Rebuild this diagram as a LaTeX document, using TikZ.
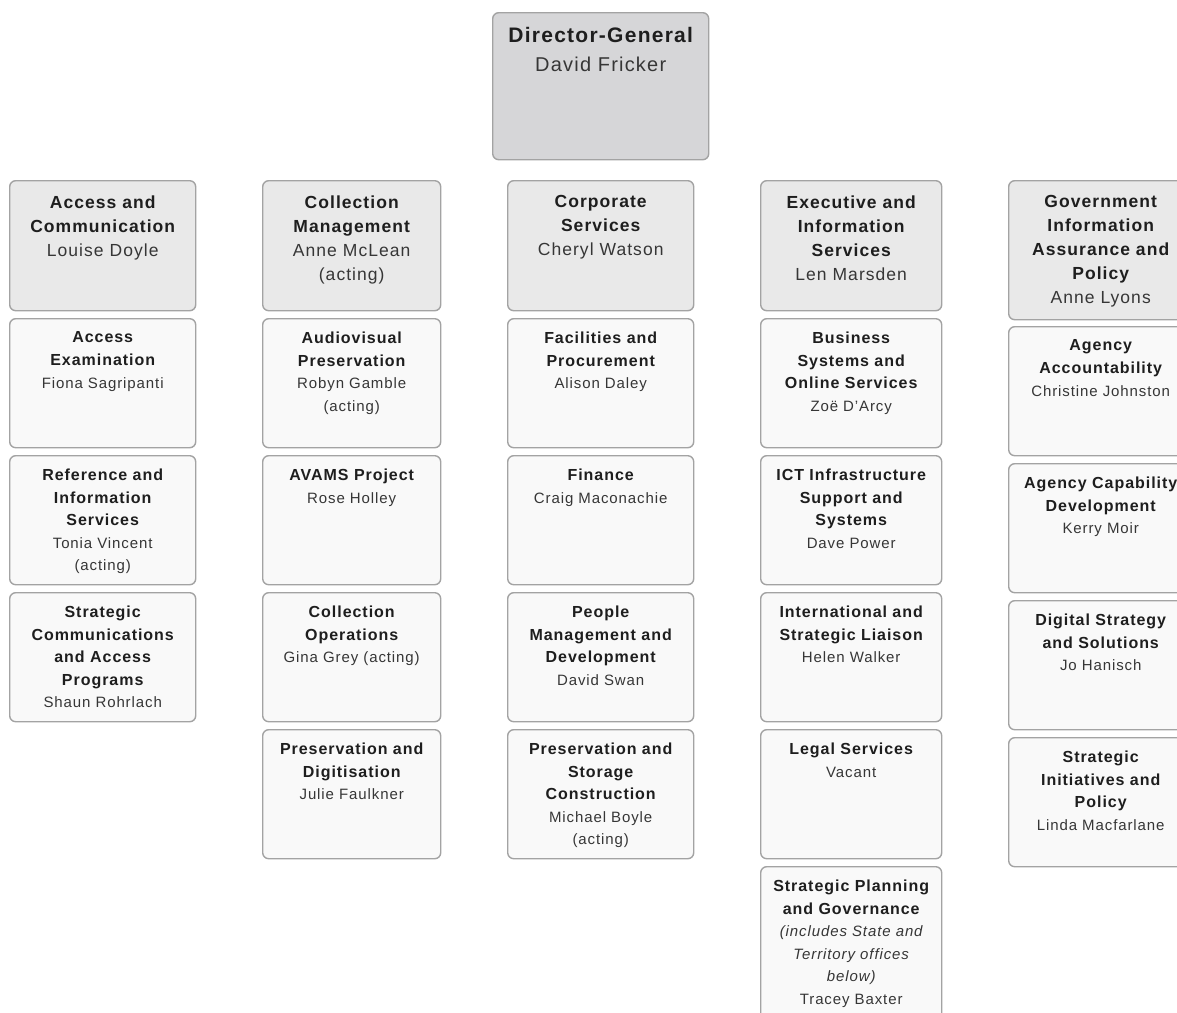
\documentclass[tikz,border=0pt]{standalone}
\usepackage{fontspec}
\setmainfont{Liberation Sans}[LetterSpace=6]
\definecolor{bordc}{HTML}{A3A3A3}
\definecolor{dgfill}{HTML}{D6D6D8}
\definecolor{headfill}{HTML}{E9E9E9}
\definecolor{subfill}{HTML}{F9F9F9}
\definecolor{ttlc}{HTML}{1E1E1E}
\definecolor{namec}{HTML}{363636}
% text helpers
\newcommand\dgT[1]{{\fontsize{21}{29}\bfseries\selectfont\color{ttlc}#1}}
\newcommand\dgN[1]{{\fontsize{20}{29}\selectfont\color{namec}#1}}
\newcommand\hT[1]{{\fontsize{17.5}{24}\bfseries\selectfont\color{ttlc}#1}}
\newcommand\hN[1]{{\fontsize{17.5}{24}\selectfont\color{namec}#1}}
\newcommand\sT[1]{{\fontsize{16}{22.6}\bfseries\selectfont\color{ttlc}#1}}
\newcommand\sN[1]{{\fontsize{15}{22.6}\selectfont\color{namec}#1}}
\newcommand\sI[1]{{\fontsize{15}{22.6}\itshape\selectfont\color{namec}#1}}
% box: name, x1, y1, x2, y2, box style, text style, text
\newcommand\obox[8]{%
  \node[#6, anchor=north west, minimum width={(#4-#2)*1pt}, minimum height={(#5-#3)*1pt}] (#1) at (#2,#3) {};
  \node[#7, anchor=north] (#1-t) at (#1.north) {#8};}
\begin{document}
\begin{tikzpicture}[x=1pt,y=-1pt,
  basebox/.style={draw=bordc, line width=1.4pt, rounded corners=6pt, inner sep=0pt},
  dgbox/.style={basebox, fill=dgfill},
  headbox/.style={basebox, fill=headfill},
  subbox/.style={basebox, fill=subfill},
  txt/.style={inner sep=0pt, align=center},
  dgtxt/.style={txt, font=\fontsize{21}{29}\selectfont, yshift=-14.7pt},
  headtxt/.style={txt, font=\fontsize{17.5}{24}\selectfont, yshift=-15.3pt},
  subtxt/.style={txt, font=\fontsize{16}{22.6}\selectfont, yshift=-13.6pt}]
\useasboundingbox (0,0) rectangle (1177,1012);
\clip (0,0) rectangle (1177,1012);
\fill[white] (0,0) rectangle (1177,1012);

% Director-General
\obox{dg}{492}{12}{708}{159}{dgbox}{dgtxt}{\dgT{Director-General}\\\dgN{David Fricker}}

% Column 1
\obox{c1h}{9}{180}{195}{310}{headbox}{headtxt}{\hT{Access and}\\\hT{Communication}\\\hN{Louise Doyle}}
\obox{c1a}{9}{318}{195}{447}{subbox}{subtxt}{\sT{Access}\\\sT{Examination}\\\sN{Fiona Sagripanti}}
\obox{c1b}{9}{455}{195}{584}{subbox}{subtxt}{\sT{Reference and}\\\sT{Information}\\\sT{Services}\\\sN{Tonia Vincent}\\\sN{(acting)}}
\obox{c1c}{9}{592}{195}{721}{subbox}{subtxt}{\sT{Strategic}\\\sT{Communications}\\\sT{and Access}\\\sT{Programs}\\\sN{Shaun Rohrlach}}

% Column 2
\obox{c2h}{262}{180}{440}{310}{headbox}{headtxt}{\hT{Collection}\\\hT{Management}\\\hN{Anne McLean}\\\hN{(acting)}}
\obox{c2a}{262}{318}{440}{447}{subbox}{subtxt}{\sT{Audiovisual}\\\sT{Preservation}\\\sN{Robyn Gamble}\\\sN{(acting)}}
\obox{c2b}{262}{455}{440}{584}{subbox}{subtxt}{\sT{AVAMS Project}\\\sN{Rose Holley}}
\obox{c2c}{262}{592}{440}{721}{subbox}{subtxt}{\sT{Collection}\\\sT{Operations}\\\sN{Gina Grey (acting)}}
\obox{c2d}{262}{729}{440}{858}{subbox}{subtxt}{\sT{Preservation and}\\\sT{Digitisation}\\\sN{Julie Faulkner}}

% Column 3
\obox{c3h}{507}{180}{693}{310}{headbox}{headtxt}{\hT{Corporate}\\\hT{Services}\\\hN{Cheryl Watson}}
\obox{c3a}{507}{318}{693}{447}{subbox}{subtxt}{\sT{Facilities and}\\\sT{Procurement}\\\sN{Alison Daley}}
\obox{c3b}{507}{455}{693}{584}{subbox}{subtxt}{\sT{Finance}\\\sN{Craig Maconachie}}
\obox{c3c}{507}{592}{693}{721}{subbox}{subtxt}{\sT{People}\\\sT{Management and}\\\sT{Development}\\\sN{David Swan}}
\obox{c3d}{507}{729}{693}{858}{subbox}{subtxt}{\sT{Preservation and}\\\sT{Storage}\\\sT{Construction}\\\sN{Michael Boyle}\\\sN{(acting)}}

% Column 4
\obox{c4h}{760}{180}{941}{310}{headbox}{headtxt}{\hT{Executive and}\\\hT{Information}\\\hT{Services}\\\hN{Len Marsden}}
\obox{c4a}{760}{318}{941}{447}{subbox}{subtxt}{\sT{Business}\\\sT{Systems and}\\\sT{Online Services}\\\sN{Zoë D'Arcy}}
\obox{c4b}{760}{455}{941}{584}{subbox}{subtxt}{\sT{ICT Infrastructure}\\\sT{Support and}\\\sT{Systems}\\\sN{Dave Power}}
\obox{c4c}{760}{592}{941}{721}{subbox}{subtxt}{\sT{International and}\\\sT{Strategic Liaison}\\\sN{Helen Walker}}
\obox{c4d}{760}{729}{941}{858}{subbox}{subtxt}{\sT{Legal Services}\\\sN{Vacant}}
\obox{c4e}{760}{866}{941}{1030}{subbox}{subtxt}{\sT{Strategic Planning}\\\sT{and Governance}\\\sI{(includes State and}\\\sI{Territory offices}\\\sI{below)}\\\sN{Tracey Baxter}}

% Column 5
\obox{c5h}{1008}{180}{1192}{319}{headbox}{headtxt}{\hT{Government}\\\hT{Information}\\\hT{Assurance and}\\\hT{Policy}\\\hN{Anne Lyons}}
\obox{c5a}{1008}{326}{1192}{455}{subbox}{subtxt}{\sT{Agency}\\\sT{Accountability}\\\sN{Christine Johnston}}
\obox{c5b}{1008}{463}{1192}{592}{subbox}{subtxt}{\sT{Agency Capability}\\\sT{Development}\\\sN{Kerry Moir}}
\obox{c5c}{1008}{600}{1192}{729}{subbox}{subtxt}{\sT{Digital Strategy}\\\sT{and Solutions}\\\sN{Jo Hanisch}}
\obox{c5d}{1008}{737}{1192}{866}{subbox}{subtxt}{\sT{Strategic}\\\sT{Initiatives and}\\\sT{Policy}\\\sN{Linda Macfarlane}}
\end{tikzpicture}
\end{document}
